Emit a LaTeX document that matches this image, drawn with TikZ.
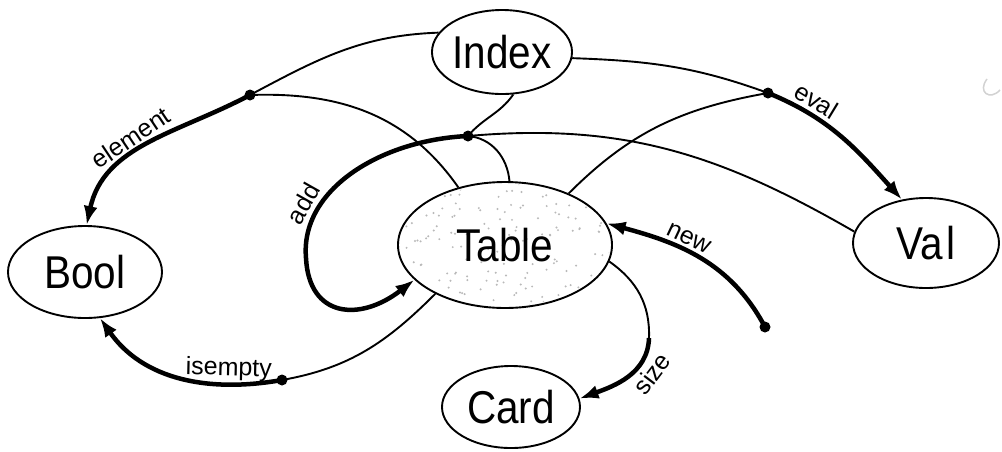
\documentclass[tikz,border=0pt]{standalone}
\usepackage{fontspec}
\setmainfont{Liberation Sans}[FakeStretch=0.88]
\newfontfamily\labfont{Liberation Sans}
\usetikzlibrary{shapes.geometric,arrows.meta}
\begin{document}
\begin{tikzpicture}[x=1pt,y=1pt,
  ent/.style={draw, ellipse, line width=1.9pt, inner sep=0pt, font=\fontsize{46}{50}\selectfont},
  lnk/.style={line width=1.9pt},
  op/.style={line width=4.5pt, -{Latex[length=19pt,width=14pt]}},
  lab/.style={font=\labfont\fontsize{25}{28}\selectfont, sloped, inner sep=3.5pt},
  jdot/.style={circle, fill, inner sep=0pt, minimum size=11pt}
]
\fill[white] (0,0) rectangle (1002,-451);
\useasboundingbox (0,0) rectangle (1002,-451);

% stipple of Table
\begin{scope}
  \clip (505,-245) ellipse [x radius=105, y radius=61];
  \pgfmathsetseed{7}
  \foreach \i in {1,...,170}
    \fill[gray!55] (505,-245) ++(rand*105,rand*61) circle (1.1pt);
\end{scope}

% entities
\node[ent, minimum width=140pt, minimum height=84pt] (Index) at (502,-52) {Index};
\node[ent, minimum width=154pt, minimum height=92pt] (Bool) at (85,-272) {Bool};
\node[ent, minimum width=214pt, minimum height=126pt] (Table) at (505,-245) {Table};
\node[ent, minimum width=146pt, minimum height=90pt] (Val) at (926,-243) {Va\kern3pt l};
\node[ent, minimum width=138pt, minimum height=82pt] (Card) at (511,-407) {Card};

% junctions
\coordinate (J1) at (250,-95);
\coordinate (J2) at (768,-93);
\coordinate (J3) at (468,-136);
\coordinate (J4) at (282,-380);
\coordinate (N) at (765,-327);
\coordinate (S) at (649,-338);

% element
\draw[lnk] (Index.163) to[out=182,in=28] (J1);
\draw[op] (J1) to[out=208,in=78] node[lab,above,pos=0.55]{element} (Bool.88);
\draw[lnk] (J1) to[out=2,in=125] (Table.129);
% eval
\draw[lnk] (Index.-5) to[out=-2,in=160] (J2);
\draw[op] (J2) to[out=-22,in=132] node[lab,above,pos=0.25]{eval} (Val.119);
\draw[lnk] (Table.39) to[out=45,in=190] (J2);
% add
\draw[lnk] (Index.-75) to[out=235,in=50] (J3);
\draw[lnk] (J3) to[out=5,in=150] (Val.171);
\draw[lnk] (J3) to[out=-5,in=95] (Table.86);
\draw[op] (J3) .. controls (380,-140) and (300,-190) .. node[lab,above,pos=0.75]{add} (306,-258)
   .. controls (309,-318) and (360,-322) .. (Table.201);
% isempty
\draw[lnk] (Table.215) to[out=225,in=10] (J4);
\draw[op] (J4) to[out=190,in=-55] node[lab,above,pos=0.25,inner sep=1.5pt]{isempty} (Bool.-72);
% size
\draw[lnk] (Table.-9) to[out=-35,in=88] (S);
\draw[op] (S) to[out=-92,in=20] node[lab,below,pos=0.3]{size} (Card.7);
% new
\draw[op] (N) to[out=118,in=-15] node[lab,above,pos=0.6]{new} (Table.12);

\node[jdot] (dJ1) at (J1) {};
\node[jdot] (dJ2) at (J2) {};
\node[jdot] (dJ3) at (J3) {};
\node[jdot] (dJ4) at (J4) {};
\node[jdot] (dN) at (N) {};

% faint stray mark
\draw[gray!35, line width=1.5pt] (987,-79) .. controls (977,-92) and (990,-101) .. (1000,-90);
\end{tikzpicture}
\end{document}
